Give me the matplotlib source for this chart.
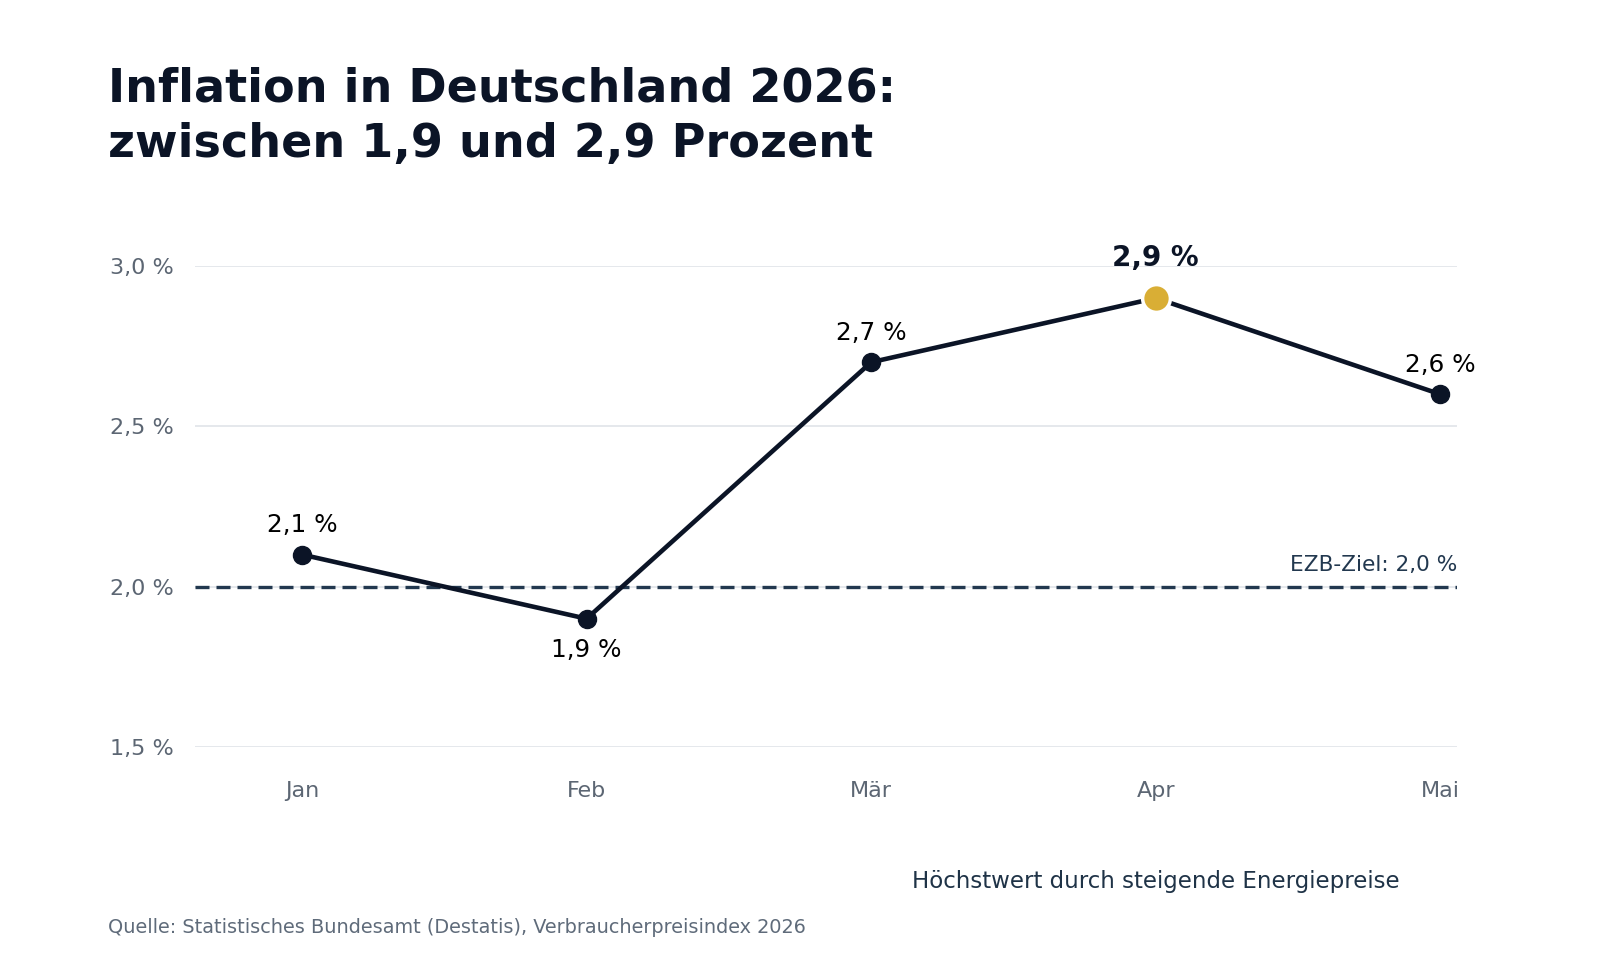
import numpy as np, matplotlib.pyplot as plt
from matplotlib.ticker import FixedLocator

months = ["Jan", "Feb", "Mär", "Apr", "Mai"]
rates = [2.1, 1.9, 2.7, 2.9, 2.6]
labels = ["2,1 %", "1,9 %", "2,7 %", "2,9 %", "2,6 %"]
below = [False, True, False, False, False]  # label under the point?
peak = 3  # index of the highlighted month
target = 2.0
yticks = [1.5, 2.0, 2.5, 3.0]
ytick_labels = ["1,5 %", "2,0 %", "2,5 %", "3,0 %"]

navy = '#0b1426'
gold = '#d9ae35'
grey = '#5c6673'

plt.rcParams['font.family'] = 'DejaVu Sans'

fig = plt.figure(figsize=(16, 9.6), dpi=100)
ax = fig.add_axes([0.1219, 0.2219, 0.789, 0.501])

x = np.arange(len(months))

# grid + target line
for t in yticks:
    ax.axhline(t, color='#e3e6eb', lw=1.3, zorder=0)
tl, = ax.plot([-0.376, 4.06], [target, target], color='#22384f', lw=2.4, zorder=1)
tl.set_dashes([4.2, 2.1])
ax.text(4.06, target + 0.066, "EZB-Ziel: 2,0 %", ha='right', va='center',
        fontsize=15.6, color='#22384f')

# main line
ax.plot(x, rates, color=navy, lw=3.3, zorder=2, solid_capstyle='round')
others = [i for i in x if i != peak]
ax.plot(x[others], [rates[i] for i in others], 'o', color=navy, ms=13, zorder=3)
ax.plot(x[peak], rates[peak], 'o', color=gold, ms=20, mec='white', mew=2.5, zorder=4)

for i, (v, lab) in enumerate(zip(rates, labels)):
    if i == peak:
        ax.annotate(lab, (i, v), xytext=(0, 29), textcoords='offset points',
                    ha='center', va='center', fontsize=20, fontweight='bold', color=navy)
    elif below[i]:
        ax.annotate(lab, (i, v), xytext=(0, -22.5), textcoords='offset points',
                    ha='center', va='center', fontsize=17.8, color='black')
    else:
        ax.annotate(lab, (i, v), xytext=(0, 21), textcoords='offset points',
                    ha='center', va='center', fontsize=17.8, color='black')

ax.set_xlim(-0.376, 4.06)
ax.set_ylim(1.5, 3.0)
ax.set_xticks(x)
ax.set_xticklabels(months)
ax.yaxis.set_major_locator(FixedLocator(yticks))
ax.set_yticklabels(ytick_labels)
ax.tick_params(axis='both', length=0, labelsize=16, labelcolor=grey)
ax.tick_params(axis='x', pad=24.5)
ax.tick_params(axis='y', pad=15)
for s in ax.spines.values():
    s.set_visible(False)

# annotation under the peak month
ax.annotate("Höchstwert durch steigende Energiepreise", (peak, 1.5),
            xytext=(0, -97), textcoords='offset points', ha='center', va='center',
            fontsize=16.5, color='#1f3347', annotation_clip=False)

fig.text(0.0675, 0.931, "Inflation in Deutschland 2026:\nzwischen 1,9 und 2,9 Prozent",
         fontsize=33.2, fontweight='bold', color=navy, ha='left', va='top',
         linespacing=1.32)
fig.text(0.0675, 0.034, "Quelle: Statistisches Bundesamt (Destatis), Verbraucherpreisindex 2026",
         fontsize=13.9, color='#5f6b7a', ha='left', va='center')

fig.savefig('out.png', dpi=100, facecolor='white')
